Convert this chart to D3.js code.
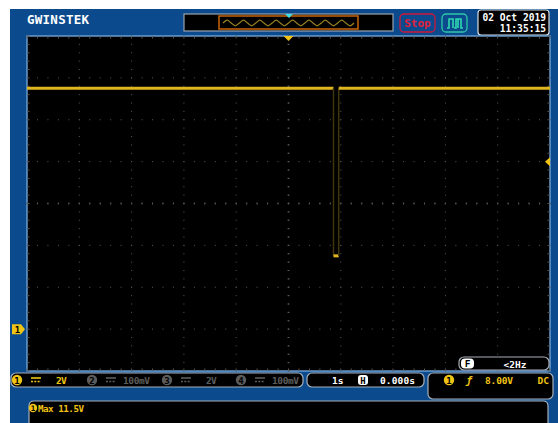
<!DOCTYPE html>
<html><head><meta charset="utf-8">
<script src="https://cdn.jsdelivr.net/npm/d3@7"></script>
<style>
html,body{margin:0;padding:0;background:#fff;}
svg{display:block;}
text{font-family:"DejaVu Sans Mono",monospace;font-weight:bold;}
</style></head>
<body><svg id="c" width="558" height="423"></svg>
<script>
const traceTime = [-5, 0.86, 0.86, 0.96, 0.96, 5];      // seconds
const traceVolt = [11.5, 11.5, 3.5, 3.5, 11.5, 11.5];   // volts (CH1)
const timeDomain = [-5, 5];          // 1 s/div, 10 div
const voltDomain = [-2, 14];         // 2 V/div, 8 div, ground at -3 div
const triggerLevel = 8;              // V
const channelIds = ["1","2","3","4"];
const channelScales = ["2V","100mV","2V","100mV"];
const timebaseLabel = "1s";
const delayLabel = "0.000s";
const triggerLabel = "8.00V";
const couplingLabel = "DC";
const freqLabel = "<2Hz";
const measureLabel = "Max 11.5V";
const dateLabel = "02 Oct 2019";
const timeLabel = "11:35:15";
const overviewPeaks = [0,1,0,-1,0,1,0,-1,0,1,0,-1,0,1,0,-1,0,1,0,-1,0,1,0,-1,0,1,0,-1,0,1,0,-1,0];

const svg = d3.select("#c");
const blue = "#0b4a8d", yellow = "#f0c414", gray = "#a8b0b8";
const px0 = 27, px1 = 550, py0 = 36, py1 = 371;
const x = d3.scaleLinear().domain(timeDomain).range([px0, px1]);
const y = d3.scaleLinear().domain(voltDomain).range([py1, py0]);

svg.append("rect").attr("x",10).attr("y",9).attr("width",548).attr("height",414).attr("fill",blue);

// top bar
svg.append("text").attr("x",27).attr("y",24).attr("fill","#fff").attr("font-family","'Liberation Sans',Arial,sans-serif")
  .attr("font-size",12.5).attr("font-weight","bold").attr("textLength",62).text("GWINSTEK");
// memory overview bar
svg.append("rect").attr("x",184).attr("y",14).attr("width",209).attr("height",17).attr("fill","#000").attr("stroke","#9aa4ae").attr("stroke-width",1.2);
svg.append("rect").attr("x",219).attr("y",16).attr("width",139).attr("height",13).attr("fill","#000").attr("stroke","#c8640a").attr("stroke-width",1.5);
const ox = d3.scaleLinear().domain([0, overviewPeaks.length-1]).range([223,354]);
svg.append("path").attr("d", d3.line().x((d,i)=>ox(i)).y(d=>23-d*2.8).curve(d3.curveCardinal)(overviewPeaks))
  .attr("fill","none").attr("stroke","#9a8420").attr("stroke-width",1.3);
svg.append("path").attr("d","M285,14 L293,14 L289,18 Z").attr("fill","#3fe0e8");
// Stop box
svg.append("rect").attr("x",400).attr("y",14).attr("width",35).attr("height",18).attr("rx",4).attr("fill",blue).attr("stroke","#d0183a").attr("stroke-width",1.3);
svg.append("text").attr("x",417.5).attr("y",27).attr("text-anchor","middle").attr("fill","#e0203c").attr("font-size",11)
  .attr("font-family","'Liberation Sans',Arial,sans-serif").text("Stop");
// run mode icon
svg.append("rect").attr("x",442).attr("y",14).attr("width",25).attr("height",18).attr("rx",4).attr("fill",blue).attr("stroke","#2ec8a8").attr("stroke-width",1.3);
svg.append("path").attr("d","M447,28 L449,28 L449,19 L453,19 L453,28 M454,28 L456,28 L456,19 L461,19 L461,28 L463,28 M458,19 L458,28")
  .attr("fill","none").attr("stroke","#2ed8b0").attr("stroke-width",1.6);
// date box
svg.append("rect").attr("x",478).attr("y",10).attr("width",71).attr("height",25).attr("rx",3).attr("fill","#000").attr("stroke","#d8dde2").attr("stroke-width",1.2);
svg.append("text").attr("x",546).attr("y",21).attr("text-anchor","end").attr("fill","#fff").attr("font-size",9.6).text(dateLabel);
svg.append("text").attr("x",546).attr("y",32).attr("text-anchor","end").attr("fill","#fff").attr("font-size",9.6).text(timeLabel);

// plot area
svg.append("rect").attr("x",px0).attr("y",py0).attr("width",px1-px0).attr("height",py1-py0).attr("fill","#000")
  .attr("stroke","#6fa4d6").attr("stroke-width",1.4);

const g = svg.append("g");
const minorT = d3.range(timeDomain[0], timeDomain[1]+0.001, 0.2);
const minorV = d3.range(voltDomain[0], voltDomain[1]+0.001, 0.4);
const majorT = d3.range(timeDomain[0]+1, timeDomain[1]-0.5, 1);
const majorV = d3.range(voltDomain[0]+2, voltDomain[1]-1, 2);
const dotCol = "#595959";
// dotted major grid lines
majorT.forEach(t=>{
  minorV.forEach(v=>{ g.append("rect").attr("x",x(t)-0.5).attr("y",y(v)-0.5).attr("width",1).attr("height",1).attr("fill",dotCol); });
});
majorV.forEach(v=>{
  minorT.forEach(t=>{ g.append("rect").attr("x",x(t)-0.5).attr("y",y(v)-0.5).attr("width",1).attr("height",1).attr("fill",dotCol); });
});
// center cross ticks
const tc = 0, vc = 6;
minorT.forEach(t=>{ g.append("line").attr("x1",x(t)).attr("x2",x(t)).attr("y1",y(vc)-1).attr("y2",y(vc)+1).attr("stroke",dotCol).attr("stroke-width",1); });
minorV.forEach(v=>{ g.append("line").attr("x1",x(tc)-1).attr("x2",x(tc)+1).attr("y1",y(v)).attr("y2",y(v)).attr("stroke",dotCol).attr("stroke-width",1); });
// edge ticks
minorT.forEach(t=>{
  g.append("line").attr("x1",x(t)).attr("x2",x(t)).attr("y1",py0).attr("y2",py0+2.5).attr("stroke",dotCol);
  g.append("line").attr("x1",x(t)).attr("x2",x(t)).attr("y1",py1).attr("y2",py1-2.5).attr("stroke",dotCol);
});
minorV.forEach(v=>{
  g.append("line").attr("x1",px0).attr("x2",px0+2.5).attr("y1",y(v)).attr("y2",y(v)).attr("stroke",dotCol);
  g.append("line").attr("x1",px1).attr("x2",px1-2.5).attr("y1",y(v)).attr("y2",y(v)).attr("stroke",dotCol);
});

// trace
const pts = traceTime.map((t,i)=>({t, v: traceVolt[i]}));
for (let i=0;i<pts.length-1;i++){
  const a = pts[i], b = pts[i+1];
  const vertical = a.t === b.t;
  svg.append("line").attr("x1",x(a.t)).attr("y1",y(a.v)).attr("x2",x(b.t)).attr("y2",y(b.v))
    .attr("stroke", vertical ? "#3e360c" : "#e0b620").attr("stroke-width", vertical ? 1.5 : 3);
}

// markers
svg.append("path").attr("d",`M${x(0)-5},${py0} L${x(0)+5},${py0} L${x(0)},${py0+5} Z`).attr("fill",yellow);
svg.append("path").attr("d",`M${px1-5},${y(triggerLevel)} L${px1},${y(triggerLevel)-4.5} L${px1},${y(triggerLevel)+4.5} Z`).attr("fill",yellow);
const gy = y(0);
svg.append("path").attr("d",`M12,${gy-5} L21,${gy-5} L25,${gy} L21,${gy+5} L12,${gy+5} Z`).attr("fill",yellow);
svg.append("text").attr("x",17.5).attr("y",gy+3.5).attr("text-anchor","middle").attr("fill","#000").attr("font-size",9).text("1");

// frequency box
svg.append("rect").attr("x",459).attr("y",357).attr("width",90).attr("height",13).attr("rx",5).attr("fill","#000").attr("stroke",gray).attr("stroke-width",1.2);
svg.append("rect").attr("x",461).attr("y",358.5).attr("width",13).attr("height",10).attr("rx",4).attr("fill","#fff");
svg.append("text").attr("x",467.5).attr("y",367).attr("text-anchor","middle").attr("fill","#000").attr("font-size",9.5).text("F");
svg.append("text").attr("x",515).attr("y",367.5).attr("text-anchor","middle").attr("fill","#fff").attr("font-size",9.5).text(freqLabel);

// channel bar
svg.append("rect").attr("x",11).attr("y",373).attr("width",292).attr("height",14).attr("rx",5).attr("fill","#000").attr("stroke",gray).attr("stroke-width",1.2);
const chX = [17, 92, 167, 241];
channelIds.forEach((id,i)=>{
  const on = i===0;
  const col = on ? yellow : "#5c5c5c";
  svg.append("circle").attr("cx",chX[i]).attr("cy",380).attr("r",5.2).attr("fill",col);
  svg.append("text").attr("x",chX[i]).attr("y",383.5).attr("text-anchor","middle").attr("fill","#000").attr("font-size",9).text(id);
  const dx = chX[i]+14;
  svg.append("line").attr("x1",dx).attr("x2",dx+10).attr("y1",378).attr("y2",378).attr("stroke",col).attr("stroke-width",1.6);
  svg.append("line").attr("x1",dx).attr("x2",dx+10).attr("y1",381.5).attr("y2",381.5).attr("stroke",col).attr("stroke-width",1.6).attr("stroke-dasharray","2,1.3");
  svg.append("text").attr("x", on ? chX[i]+39 : chX[i]+31 + (channelScales[i].length<3?8:0)).attr("y",384).attr("fill",col).attr("font-size",9.5)
    .attr("textLength", channelScales[i].length*5.4).text(channelScales[i]);
});

// timebase box
svg.append("rect").attr("x",307).attr("y",373).attr("width",117).attr("height",14).attr("rx",5).attr("fill","#000").attr("stroke",gray).attr("stroke-width",1.2);
svg.append("text").attr("x",332).attr("y",384).attr("fill","#fff").attr("font-size",9.5).text(timebaseLabel);
svg.append("rect").attr("x",358).attr("y",375).attr("width",10).attr("height",10).attr("rx",3).attr("fill","#fff");
svg.append("text").attr("x",363).attr("y",383.5).attr("text-anchor","middle").attr("fill","#000").attr("font-size",9).text("H");
svg.append("text").attr("x",380).attr("y",384).attr("fill","#fff").attr("font-size",9.5).attr("textLength",35).text(delayLabel);

// trigger box
svg.append("rect").attr("x",428).attr("y",373).attr("width",125).attr("height",26).attr("rx",5).attr("fill","#000").attr("stroke",gray).attr("stroke-width",1.2);
svg.append("circle").attr("cx",449).attr("cy",380).attr("r",5.2).attr("fill",yellow);
svg.append("text").attr("x",449).attr("y",383.5).attr("text-anchor","middle").attr("fill","#000").attr("font-size",9).text("1");
svg.append("text").attr("x",469).attr("y",384).attr("text-anchor","middle").attr("fill",yellow).attr("font-size",10).attr("font-style","italic").text("ƒ");
svg.append("text").attr("x",485).attr("y",384).attr("fill",yellow).attr("font-size",9.5).attr("textLength",28).text(triggerLabel);
svg.append("text").attr("x",549).attr("y",384).attr("text-anchor","end").attr("fill",yellow).attr("font-size",9.5).text(couplingLabel);

// measurement box
svg.append("path").attr("d","M29,426 L29,406 Q29,401 34,401 L543,401 Q548,401 548,406 L548,426").attr("fill","#000").attr("stroke",gray).attr("stroke-width",1.2);
svg.append("circle").attr("cx",33).attr("cy",408).attr("r",4.2).attr("fill",yellow);
svg.append("text").attr("x",33).attr("y",411).attr("text-anchor","middle").attr("fill","#000").attr("font-size",7.5).text("1");
svg.append("text").attr("x",38).attr("y",412).attr("fill",yellow).attr("font-size",9.2).attr("textLength",46).text(measureLabel);
</script></body></html>
